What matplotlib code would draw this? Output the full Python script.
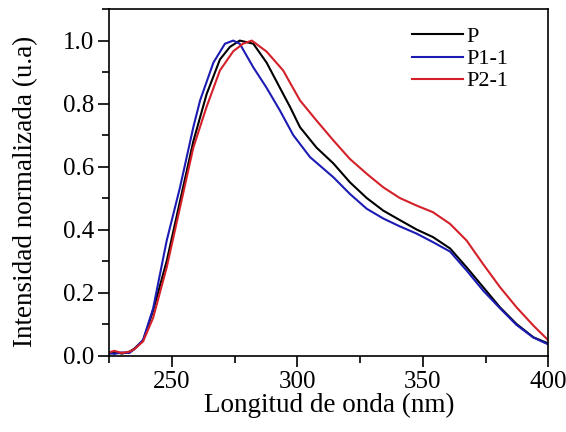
import matplotlib
matplotlib.use("Agg")
import matplotlib.pyplot as plt
from matplotlib.ticker import MultipleLocator, FormatStrFormatter

plt.rcParams['font.family'] = ['Liberation Serif', 'DejaVu Serif']
plt.rcParams['mathtext.fontset'] = 'stix'

wl_p = [225, 227, 230, 233, 235, 238.5, 242.5, 247.9, 253.2, 258.5, 263.8, 269.1, 273.1, 277,
        282.4, 287.7, 293, 297, 301, 307.6, 314.3, 320.9, 327.6, 334.2, 340.8, 347.5, 354,
        360.8, 367.4, 374, 380.7, 387.3, 394, 400]
int_p = [0.005, 0.012, 0.006, 0.012, 0.022, 0.048, 0.143, 0.30, 0.49, 0.68, 0.83, 0.94, 0.98, 1.0,
         0.99, 0.93, 0.85, 0.79, 0.725, 0.66, 0.61, 0.55, 0.50, 0.46, 0.43, 0.40, 0.376,
         0.34, 0.28, 0.217, 0.153, 0.10, 0.058, 0.038]

wl_p1 = [225, 227, 230, 233, 235, 238.5, 242.5, 247.9, 253.2, 258.5, 261.2, 266.5, 271.1, 274.4,
         277, 282.4, 287.7, 293, 298.3, 305, 314.3, 320.9, 327.6, 334.2, 340.8, 347.5, 354,
         360.8, 367.4, 374, 380.7, 387.3, 394, 400]
int_p1 = [0.008, 0.005, 0.01, 0.008, 0.02, 0.05, 0.15, 0.365, 0.534, 0.725, 0.81, 0.93, 0.99, 1.0,
          0.99, 0.915, 0.85, 0.778, 0.70, 0.63, 0.566, 0.513, 0.466, 0.435, 0.41, 0.387, 0.36,
          0.33, 0.27, 0.206, 0.15, 0.097, 0.057, 0.035]

wl_p2 = [225, 227, 230, 233, 235, 238.5, 242.5, 247.9, 253.2, 258.5, 263.8, 269.1, 274.4, 278.3,
         281.8, 287.7, 294.3, 301, 307.6, 314.3, 320.9, 327.6, 334.2, 340.8, 347.5, 354,
         360.8, 367.4, 374, 380.7, 387.3, 394, 400]
int_p2 = [0.01, 0.015, 0.008, 0.012, 0.02, 0.045, 0.12, 0.28, 0.47, 0.66, 0.79, 0.905, 0.966, 0.99,
          1.0, 0.965, 0.905, 0.81, 0.746, 0.683, 0.624, 0.577, 0.534, 0.50, 0.476, 0.455,
          0.418, 0.365, 0.29, 0.217, 0.153, 0.095, 0.048]

labels = ["P", "P1-1", "P2-1"]
colors = ["#000000", "#1c1cb4", "#d42028"]

fig = plt.figure(figsize=(5.66, 4.32), dpi=100)
ax = fig.add_axes([0.193, 0.177, 0.776, 0.802])

for x, y, lab, c in zip([wl_p, wl_p1, wl_p2], [int_p, int_p1, int_p2], labels, colors):
    ax.plot(x, y, color=c, lw=1.5, label=lab)

ax.set_xlim(225, 400)
ax.set_ylim(0, 1.1)
ax.xaxis.set_major_locator(MultipleLocator(50))
ax.xaxis.set_minor_locator(MultipleLocator(25))
ax.yaxis.set_major_locator(MultipleLocator(0.2))
ax.yaxis.set_minor_locator(MultipleLocator(0.1))
ax.yaxis.set_major_formatter(FormatStrFormatter('%.1f'))
ax.tick_params(which='both', direction='out', top=False, right=False, labelsize=18, pad=3)
ax.tick_params(which='major', length=8, width=1.2)
ax.tick_params(which='minor', length=5, width=1.2)
for s in ax.spines.values():
    s.set_linewidth(1.2)

ax.set_xlabel("Longitud de onda (nm)", fontsize=19.5, labelpad=0)
ax.set_ylabel("Intensidad normalizada (u.a)", fontsize=19.5)
ax.yaxis.set_label_coords(-0.162, 0.474)

ax.legend(loc='upper right', bbox_to_anchor=(0.929, 0.975), borderaxespad=0.0,
          frameon=False, fontsize=16, handlelength=2.3,
          handletextpad=0.15, labelspacing=0.07)

fig.savefig("out.png", dpi=100)
